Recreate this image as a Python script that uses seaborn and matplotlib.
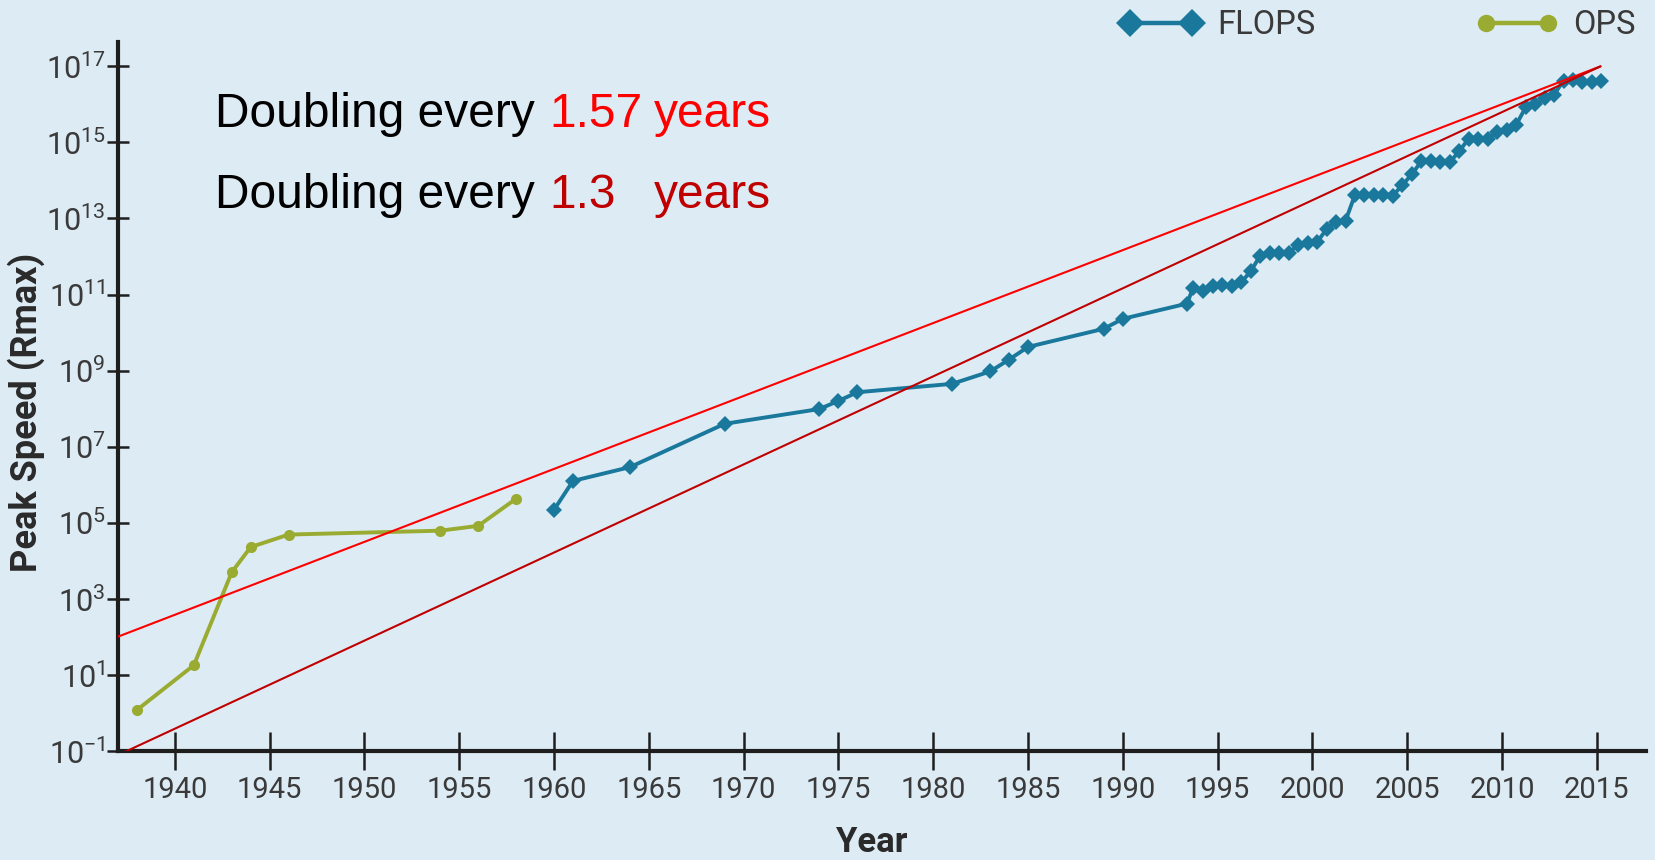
import numpy as np
import matplotlib
matplotlib.use("Agg")
import matplotlib.pyplot as plt
from matplotlib.lines import Line2D
from matplotlib.ticker import FixedLocator, NullLocator, FuncFormatter
import seaborn as sns

# ---- data -------------------------------------------------------------
ops_years = [1938, 1941, 1943, 1944, 1946, 1954, 1956, 1958]
ops_speed = [1.2, 18, 5.0e3, 2.3e4, 4.9e4, 6.2e4, 8.3e4, 4.3e5]

flops_years = [
    1960, 1961, 1964, 1969, 1974, 1975, 1976, 1981, 1983, 1984, 1985, 1989, 1990,
    1993.4, 1993.7, 1994.25, 1994.75, 1995.25, 1995.75, 1996.25, 1996.75,
    1997.25, 1997.75, 1998.25, 1998.75, 1999.25, 1999.75, 2000.25, 2000.75,
    2001.25, 2001.75, 2002.25, 2002.75, 2003.25, 2003.75, 2004.25, 2004.75,
    2005.25, 2005.75, 2006.25, 2006.75, 2007.25, 2007.75, 2008.25, 2008.75,
    2009.25, 2009.75, 2010.25, 2010.75, 2011.25, 2011.75, 2012.25, 2012.75,
    2013.25, 2013.75, 2014.25, 2014.75, 2015.25,
]
flops_speed = [
    2.2e5, 1.26e6, 2.9e6, 4.0e7, 9.8e7, 1.6e8, 2.7e8, 4.5e8, 9.5e8, 1.95e9, 4.2e9, 1.26e10, 2.3e10,
    5.8e10, 1.5e11, 1.26e11, 1.7e11, 1.8e11, 1.66e11, 2.1e11, 4.1e11,
    1.05e12, 1.26e12, 1.26e12, 1.26e12, 2.0e12, 2.3e12, 2.4e12, 5.2e12,
    8.3e12, 8.7e12, 4.2e13, 4.2e13, 4.2e13, 4.2e13, 4.0e13, 7.6e13,
    1.45e14, 3.2e14, 3.2e14, 3.0e14, 3.0e14, 5.9e14, 1.26e15, 1.23e15,
    1.2e15, 1.86e15, 2.1e15, 2.9e15, 8.3e15, 1.0e16, 1.45e16, 1.8e16,
    4.2e16, 4.3e16, 3.8e16, 3.8e16, 4.0e16,
]

# trend lines: fixed doubling times, meeting at a common end point
doubling_years = [1.57, 1.3]
doubling_labels = ["1.57", "1.3"]
trend_colors = ["#ff0000", "#c00000"]
trend_span = [1937.0, 2015.2]
trend_end_speed = 10 ** 17.0

series_labels = ["FLOPS", "OPS"]
x_ticks = list(range(1940, 2016, 5))
y_tick_exps = list(range(-1, 18, 2))

# ---- style ------------------------------------------------------------
bg = "#ddebf4"
flops_color = "#19789b"
ops_color = "#9aab32"
axis_color = "#1e1e1e"
label_color = "#3a3a3a"

sns.set_theme(style="ticks")
plt.rcParams["font.family"] = ["Roboto", "DejaVu Sans"]
plt.rcParams["mathtext.default"] = "regular"

W, H = 1655, 860
fig = plt.figure(figsize=(W / 100, H / 100), dpi=100, facecolor=bg)
ax_left, ax_right, ax_top, ax_bottom = 118, 1646, 42, 751
ax = fig.add_axes([ax_left / W, 1 - ax_bottom / H,
                   (ax_right - ax_left) / W, (ax_bottom - ax_top) / H])
ax.set_facecolor(bg)

# trend lines
for T, col in zip(doubling_years, trend_colors):
    span = trend_span[1] - trend_span[0]
    start = trend_end_speed / 2 ** (span / T)
    sns.lineplot(x=trend_span, y=[start, trend_end_speed], ax=ax, color=col,
                 linewidth=1.5, estimator=None, legend=False, zorder=4)

# OPS series
sns.lineplot(x=ops_years, y=ops_speed, ax=ax, color=ops_color, linewidth=2.8,
             marker="o", markersize=8, markeredgecolor=ops_color,
             markeredgewidth=0, estimator=None, legend=False, zorder=3)

# FLOPS series
sns.lineplot(x=flops_years, y=flops_speed, ax=ax, color=flops_color, linewidth=2.8,
             marker="D", markersize=8, markeredgecolor=flops_color,
             markeredgewidth=0, estimator=None, legend=False, zorder=3)

ax.set_yscale("log")
ax.set_xlim(1937, 2017.6)
ax.set_ylim(10 ** -1, 10 ** 17.64)

ax.xaxis.set_major_locator(FixedLocator(x_ticks))
ax.yaxis.set_major_locator(FixedLocator([10.0 ** e for e in y_tick_exps]))
ax.yaxis.set_minor_locator(NullLocator())
ax.xaxis.set_minor_locator(NullLocator())
ax.yaxis.set_major_formatter(
    FuncFormatter(lambda v, p: "$10^{%d}$" % int(round(np.log10(v)))))

for side in ("top", "right"):
    ax.spines[side].set_visible(False)
for side in ("left", "bottom"):
    ax.spines[side].set_linewidth(3)
    ax.spines[side].set_color(axis_color)

ax.tick_params(axis="x", direction="inout", length=28, width=1.8, color=axis_color,
               labelsize=21, labelcolor=label_color, pad=4)
ax.tick_params(axis="y", direction="inout", length=16, width=1.8, color=axis_color,
               labelsize=22, labelcolor=label_color, pad=1)

ax.set_xlabel("Year", fontsize=25, fontweight="bold", color="#2a2a2a")
ax.set_ylabel("Peak Speed (Rmax)", fontsize=26, fontweight="bold", color="#2a2a2a")
ax.xaxis.set_label_coords((872 - ax_left) / (ax_right - ax_left),
                          (ax_bottom - 826) / (ax_bottom - ax_top))
ax.yaxis.set_label_coords((45 - ax_left) / (ax_right - ax_left),
                          (ax_bottom - 412) / (ax_bottom - ax_top))
ax.grid(False)

# legend above the plot
handles = [
    Line2D([], [], color=flops_color, lw=3.2, marker="D", markersize=14,
           markeredgewidth=0),
    Line2D([], [], color=ops_color, lw=3.2, marker="o", markersize=12.5,
           markeredgewidth=0),
]
ax.legend(handles, series_labels, ncol=2, frameon=False, numpoints=2,
          handlelength=2.5, handletextpad=0.47, columnspacing=4.95,
          loc="center right", bbox_to_anchor=(1636 / W, 1 - 25 / H),
          bbox_transform=fig.transFigure, borderaxespad=0, borderpad=0,
          prop={"family": "Roboto", "size": 23.5}, labelcolor=label_color)

# doubling-time annotations
txt_font = ["Liberation Sans", "DejaVu Sans"]
for i, (lab, col) in enumerate(zip(doubling_labels, trend_colors)):
    base_y = [127, 208][i]
    fy = 1 - base_y / H
    fig.text(215 / W, fy, "Doubling every", color="black", fontsize=34.5,
             family=txt_font, va="baseline", ha="left")
    fig.text(549 / W, fy, lab, color=col, fontsize=34.5,
             family=txt_font, va="baseline", ha="left")
    fig.text(654 / W, fy, "years", color=col, fontsize=34.5,
             family=txt_font, va="baseline", ha="left")

fig.savefig("out.png", dpi=100, facecolor=bg)
